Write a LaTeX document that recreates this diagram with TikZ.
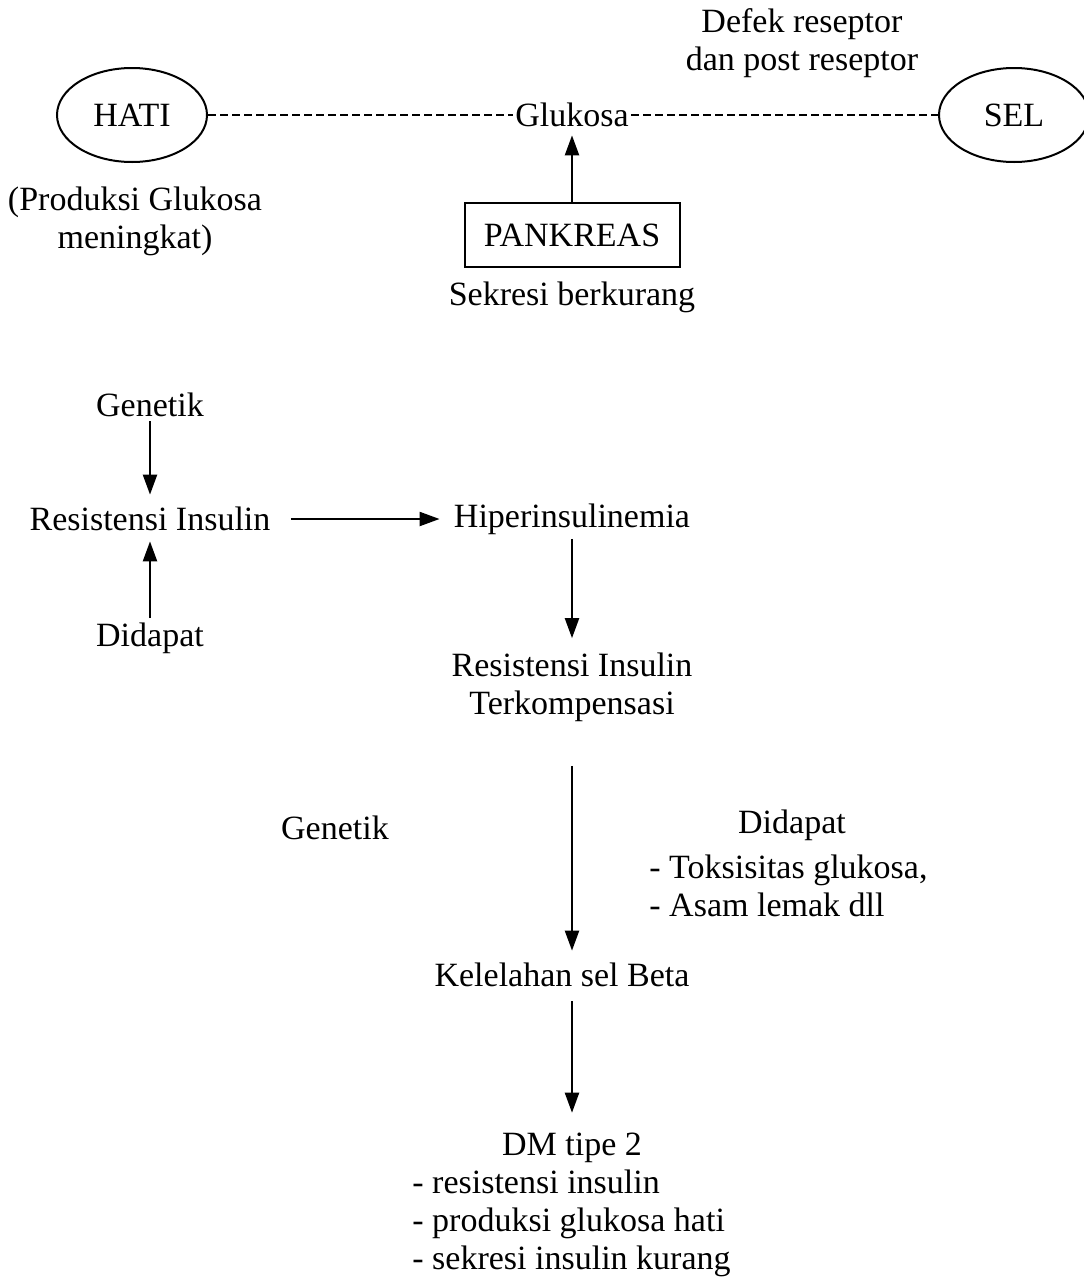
\documentclass[tikz,border=0pt]{standalone}
\usepackage{fontspec}
\setmainfont{Liberation Serif}
\usetikzlibrary{positioning,arrows.meta,shapes.geometric}
\tikzset{
txt/.style={font=\fontsize{17}{19}\selectfont,align=center,inner sep=2pt},
organ/.style={draw,ellipse,line width=1pt,minimum width=75pt,minimum height=47pt,inner sep=0pt,font=\fontsize{17}{19}\selectfont},
gland/.style={draw,line width=1pt,minimum width=107.5pt,minimum height=32pt,inner sep=0pt,font=\fontsize{17}{19}\selectfont},
arrow/.style={-{Triangle[length=10pt,width=7pt]},line width=1.1pt},
dashline/.style={line width=0.8pt,dash pattern=on 4pt off 2pt}
}
\begin{document}
\begin{tikzpicture}[x=0.5pt,y=-0.5pt]
\useasboundingbox (0,0) rectangle (1083,1280);
% top part
\node[organ](hati) at (132,115){HATI};
\node[organ](sel) at (1014,115){SEL};
\node[txt,inner sep=1pt](gluk) at (572,115){Glukosa};
\node[txt](defek) at (802,43){Defek reseptor\\dan post reseptor};
\node[txt](prod) at (135,221){(Produksi Glukosa\\meningkat)};
\node[gland](pank) at (572,235){PANKREAS};
\node[txt,below=5pt of pank](sekr){Sekresi berkurang};
\draw[dashline](hati)--(gluk);
\draw[dashline](gluk)--(sel);
\draw[arrow,shorten >=3pt](pank)--(gluk);
% middle part
\node[txt](gen1) at (150,405){Genetik};
\node[txt](ri) at (150,519){Resistensi Insulin};
\node[txt](did1) at (150,638){Didapat};
\node[txt](hip) at (572,519){Hiperinsulinemia};
\node[txt](rik) at (572,687){Resistensi Insulin\\Terkompensasi};
\node[txt](gen2) at (335,828){Genetik};
\node[txt](did2) at (792,825){Didapat};
\node[txt,align=left,anchor=west](didl) at (645,886){- Toksisitas glukosa,\\- Asam lemak dll};
\node[txt](kel) at (562,975){Kelelahan sel Beta};
\node[txt](dm) at (572,1148){DM tipe 2};
\node[txt,align=left,anchor=west](dml) at (408,1223){- resistensi insulin\\- produksi glukosa hati\\- sekresi insulin kurang};
\foreach \x/\y/\s/\e in {gen1/ri/0/4,did1/ri/0/3,hip/rik/0/5} \draw[arrow,shorten <=\s pt,shorten >=\e pt](\x)--(\y);
\draw[arrow,shorten <=8pt,shorten >=5pt](ri)--(hip);
\draw[arrow,shorten <=20pt,shorten >=4pt](rik.south)--(rik.south |- kel.north);
\draw[arrow,shorten <=5pt,shorten >=8pt](dm.north |- kel.south)--(dm.north);
\end{tikzpicture}
\end{document}
